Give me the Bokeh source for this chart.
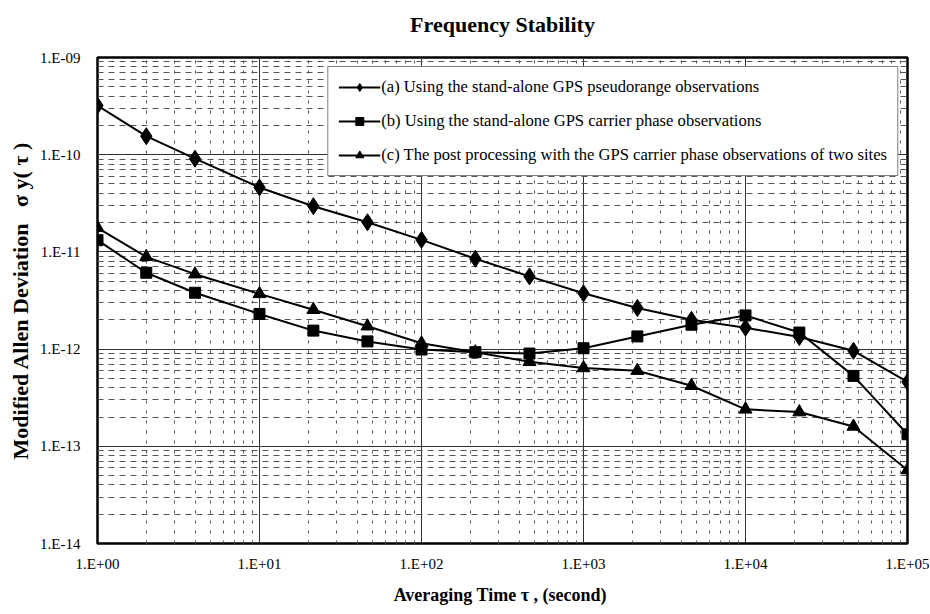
from bokeh.plotting import figure
from bokeh.models import FixedTicker, Legend, LegendItem
from bokeh.embed import file_html
from bokeh.resources import INLINE

# ---- data ----
tau = [1, 2, 4, 10, 21.5, 46.4, 100, 215, 464, 1000, 2150, 4640, 10000, 21500, 46400, 100000]
sigma_a = [3.2e-10, 1.55e-10, 9.1e-11, 4.6e-11, 2.95e-11, 2.02e-11, 1.33e-11, 8.5e-12,
           5.6e-12, 3.75e-12, 2.65e-12, 2.0e-12, 1.66e-12, 1.33e-12, 9.6e-13, 4.6e-13]
sigma_b = [1.32e-11, 6.1e-12, 3.8e-12, 2.3e-12, 1.55e-12, 1.2e-12, 9.9e-13, 9.3e-13,
           9.0e-13, 1.02e-12, 1.35e-12, 1.78e-12, 2.22e-12, 1.48e-12, 5.3e-13, 1.33e-13]
sigma_c = [1.77e-11, 8.9e-12, 5.9e-12, 3.7e-12, 2.54e-12, 1.72e-12, 1.15e-12, 9.3e-13,
           7.4e-13, 6.4e-13, 6.0e-13, 4.2e-13, 2.4e-13, 2.25e-13, 1.6e-13, 5.7e-14]

series_labels = [
    "(a) Using the stand-alone GPS pseudorange observations",
    "(b) Using the stand-alone GPS carrier phase observations",
    "(c) The post processing with the GPS carrier phase observations of two sites",
]

x_ticks = [1, 10, 100, 1000, 10000, 100000]
x_tick_labels = ["1.E+00", "1.E+01", "1.E+02", "1.E+03", "1.E+04", "1.E+05"]
y_ticks = [1e-14, 1e-13, 1e-12, 1e-11, 1e-10, 1e-9]
y_tick_labels = ["1.E-14", "1.E-13", "1.E-12", "1.E-11", "1.E-10", "1.E-09"]

title_text = "Frequency Stability"
x_label = "Averaging Time  \u03c4 , (second)"
y_label = "Modified Allen Deviation\u00a0\u00a0\u00a0\u03c3\u00a0y(\u00a0\u03c4\u00a0)"

FONT = "Liberation Serif"

p = figure(frame_width=810, frame_height=486,
           x_axis_type="log", y_axis_type="log",
           x_range=(x_ticks[0], x_ticks[-1]), y_range=(y_ticks[0], y_ticks[-1]),
           output_backend="svg", toolbar_location=None,
           min_border_left=97, min_border_right=22, min_border_top=57, min_border_bottom=70,
           title=title_text)

p.title.text_font = FONT
p.title.text_font_size = "22px"
p.title.text_font_style = "bold"
p.title.align = "center"
p.title.vertical_align = "bottom"
p.title.text_color = "black"
p.title.padding = (0, 0, 0, 14)
p.title.standoff = 14

def minor_of(majors):
    out = []
    for m in majors[:-1]:
        for k in range(2, 10):
            out.append(m * k)
    return out

p.xaxis.ticker = FixedTicker(ticks=x_ticks, minor_ticks=minor_of(x_ticks))
p.yaxis.ticker = FixedTicker(ticks=y_ticks, minor_ticks=minor_of(y_ticks))
p.xaxis.major_label_overrides = dict(zip(x_ticks, x_tick_labels))
p.yaxis.major_label_overrides = dict(zip(y_ticks, y_tick_labels))

for ax in (p.xaxis, p.yaxis):
    ax.axis_line_color = None
    ax.major_tick_line_color = None
    ax.minor_tick_line_color = None
    ax.major_label_text_font = FONT
    ax.major_label_text_font_size = "15px"
    ax.major_label_text_color = "black"
    ax.axis_label_text_font = FONT
    ax.axis_label_text_font_style = "bold"
    ax.axis_label_text_color = "black"

p.xaxis.axis_label = x_label
p.yaxis.axis_label = y_label
p.xaxis.axis_label_text_font_size = "18px"
p.yaxis.axis_label_text_font_size = "22px"
p.xaxis.major_label_standoff = 6
p.yaxis.major_label_standoff = 11
p.xaxis.axis_label_standoff = 10
p.yaxis.axis_label_standoff = 4

p.outline_line_color = "black"
p.outline_line_width = 2.5

p.xgrid.grid_line_color = "#333333"
p.xgrid.grid_line_width = 1
p.ygrid.grid_line_color = "#333333"
p.ygrid.grid_line_width = 1
p.xgrid.minor_grid_line_color = "#555555"
p.xgrid.minor_grid_line_dash = "3 7"
p.xgrid.minor_grid_line_width = 1
p.ygrid.minor_grid_line_color = "#555555"
p.ygrid.minor_grid_line_dash = "6 5"
p.ygrid.minor_grid_line_width = 1

items = []
for ys, marker, size, lab in [(sigma_a, "diamond", 17, series_labels[0]),
                              (sigma_b, "square", 11, series_labels[1]),
                              (sigma_c, "triangle", 13, series_labels[2])]:
    ln = p.line(tau, ys, line_color="black", line_width=2)
    sc = p.scatter(tau, ys, marker=marker, size=size, fill_color="black", line_color="black")
    items.append(LegendItem(label=lab, renderers=[ln, sc]))

legend = Legend(items=items, location="top_right")
legend.margin = 9
legend.padding = 10
legend.spacing = 14
legend.glyph_width = 42
legend.glyph_height = 20
legend.label_height = 20
legend.label_standoff = 1
legend.label_text_font = FONT
legend.label_text_font_size = "16.6px"
legend.label_text_color = "black"
legend.border_line_color = "black"
legend.border_line_width = 1
legend.background_fill_color = "white"
legend.background_fill_alpha = 1.0
p.add_layout(legend)

p.background_fill_color = "white"
p.border_fill_color = "white"

open("out.html", "w").write(file_html(p, INLINE))
